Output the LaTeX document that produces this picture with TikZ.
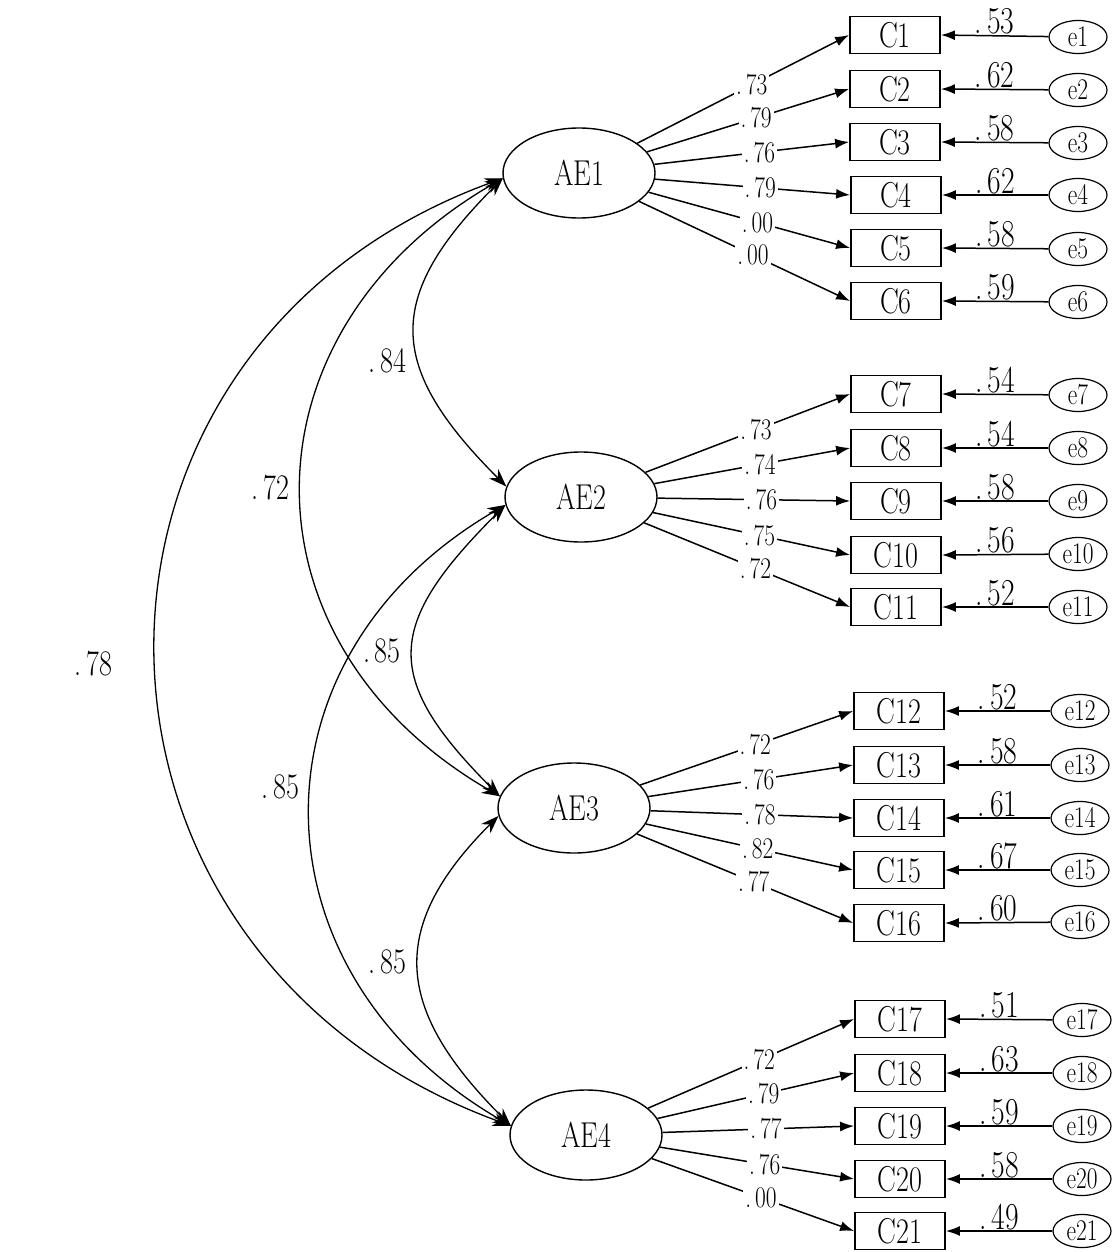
\documentclass[tikz,border=0pt]{standalone}
\usepackage{graphicx}
\usepackage{tikz}
\usetikzlibrary{arrows.meta}
\usetikzlibrary{shapes.geometric}
\newcommand{\nar}[1]{\scalebox{0.78}[1]{#1}}

\tikzset{
  latent/.style={draw, ellipse, line width=0.7pt, minimum width=76pt, minimum height=45pt, inner sep=0pt, font=\fontsize{18}{21}\selectfont},
  obs/.style={draw, rectangle, line width=0.9pt, minimum width=45pt, minimum height=18.5pt, inner sep=0pt, font=\fontsize{18}{21}\selectfont},
  resid/.style={draw, ellipse, line width=0.6pt, minimum width=29pt, minimum height=16.5pt, inner sep=0pt, font=\fontsize{15}{17}\selectfont},
  load/.style={line width=0.75pt, -{Latex[length=7pt,width=5pt]}},
  cov/.style={line width=0.65pt, {Stealth[length=9pt,width=6.5pt]}-{Stealth[length=9pt,width=6.5pt]}},
  loadlbl/.style={fill=white, inner sep=1pt, pos=0.54, font=\fontsize{15}{17}\selectfont},
  errlbl/.style={above, inner sep=0.3pt, pos=0.5, font=\fontsize{19}{21}\selectfont},
  covlbl/.style={left, inner sep=6pt, font=\fontsize{18}{21}\selectfont}
}

\begin{document}
\begin{tikzpicture}[x=0.5pt, y=0.5pt]
            % Frame to ensure alignment:
            \useasboundingbox (0, 0) rectangle (1112, -1252);
            % Factors
            \node[latent] (AE1) at (579, -173) {\nar{AE1}};
            \node[latent] (AE2) at (581, -497) {\nar{AE2}};
            \node[latent] (AE3) at (574, -808) {\nar{AE3}};
            \node[latent] (AE4) at (586,-1135) {\nar{AE4}};
            % AE1 items
            \node[obs]   (C1)  at (895,  -35) {\nar{C1}};   \node[resid] (e1)  at (1078,  -37) {\nar{e1}};
            \node[obs]   (C2)  at (895,  -89) {\nar{C2}};   \node[resid] (e2)  at (1078,  -90) {\nar{e2}};
            \node[obs]   (C3)  at (895, -142) {\nar{C3}};   \node[resid] (e3)  at (1078, -143) {\nar{e3}};
            \node[obs]   (C4)  at (896, -195) {\nar{C4}};   \node[resid] (e4)  at (1078, -195) {\nar{e4}};
            \node[obs]   (C5)  at (896, -248) {\nar{C5}};   \node[resid] (e5)  at (1078, -249) {\nar{e5}};
            \node[obs]   (C6)  at (896, -301) {\nar{C6}};   \node[resid] (e6)  at (1078, -302) {\nar{e6}};
            % AE2 items
            \node[obs]   (C7)  at (896, -394) {\nar{C7}};   \node[resid] (e7)  at (1078, -395) {\nar{e7}};
            \node[obs]   (C8)  at (896, -448) {\nar{C8}};   \node[resid] (e8)  at (1078, -448) {\nar{e8}};
            \node[obs]   (C9)  at (896, -501) {\nar{C9}};   \node[resid] (e9)  at (1078, -501) {\nar{e9}};
            \node[obs]   (C10) at (896, -555) {\nar{C10}};  \node[resid] (e10) at (1078, -554) {\nar{e10}};
            \node[obs]   (C11) at (896, -607) {\nar{C11}};  \node[resid] (e11) at (1078, -607) {\nar{e11}};
            % AE3 items
            \node[obs]   (C12) at (899, -711) {\nar{C12}};  \node[resid] (e12) at (1080, -711) {\nar{e12}};
            \node[obs]   (C13) at (899, -765) {\nar{C13}};  \node[resid] (e13) at (1080, -765) {\nar{e13}};
            \node[obs]   (C14) at (899, -818) {\nar{C14}};  \node[resid] (e14) at (1080, -818) {\nar{e14}};
            \node[obs]   (C15) at (899, -870) {\nar{C15}};  \node[resid] (e15) at (1080, -870) {\nar{e15}};
            \node[obs]   (C16) at (899, -923) {\nar{C16}};  \node[resid] (e16) at (1080, -922) {\nar{e16}};
            % AE4 items
            \node[obs]   (C17) at (900,-1019) {\nar{C17}};  \node[resid] (e17) at (1082,-1020) {\nar{e17}};
            \node[obs]   (C18) at (900,-1073) {\nar{C18}};  \node[resid] (e18) at (1082,-1073) {\nar{e18}};
            \node[obs]   (C19) at (900,-1126) {\nar{C19}};  \node[resid] (e19) at (1082,-1126) {\nar{e19}};
            \node[obs]   (C20) at (900,-1179) {\nar{C20}};  \node[resid] (e20) at (1082,-1179) {\nar{e20}};
            \node[obs]   (C21) at (900,-1231) {\nar{C21}};  \node[resid] (e21) at (1082,-1231) {\nar{e21}};
            % Loadings
            \draw[load] (AE1) -- node[loadlbl] {\nar{.\,73}} (C1.west);
            \draw[load] (AE1) -- node[loadlbl] {\nar{.\,79}} (C2.west);
            \draw[load] (AE1) -- node[loadlbl] {\nar{.\,76}} (C3.west);
            \draw[load] (AE1) -- node[loadlbl] {\nar{.\,79}} (C4.west);
            \draw[load] (AE1) -- node[loadlbl] {\nar{.\,00}} (C5.west);
            \draw[load] (AE1) -- node[loadlbl] {\nar{.\,00}} (C6.west);
            \draw[load] (AE2) -- node[loadlbl] {\nar{.\,73}} (C7.west);
            \draw[load] (AE2) -- node[loadlbl] {\nar{.\,74}} (C8.west);
            \draw[load] (AE2) -- node[loadlbl] {\nar{.\,76}} (C9.west);
            \draw[load] (AE2) -- node[loadlbl] {\nar{.\,75}} (C10.west);
            \draw[load] (AE2) -- node[loadlbl] {\nar{.\,72}} (C11.west);
            \draw[load] (AE3) -- node[loadlbl] {\nar{.\,72}} (C12.west);
            \draw[load] (AE3) -- node[loadlbl] {\nar{.\,76}} (C13.west);
            \draw[load] (AE3) -- node[loadlbl] {\nar{.\,78}} (C14.west);
            \draw[load] (AE3) -- node[loadlbl] {\nar{.\,82}} (C15.west);
            \draw[load] (AE3) -- node[loadlbl] {\nar{.\,77}} (C16.west);
            \draw[load] (AE4) -- node[loadlbl] {\nar{.\,72}} (C17.west);
            \draw[load] (AE4) -- node[loadlbl] {\nar{.\,79}} (C18.west);
            \draw[load] (AE4) -- node[loadlbl] {\nar{.\,77}} (C19.west);
            \draw[load] (AE4) -- node[loadlbl] {\nar{.\,76}} (C20.west);
            \draw[load] (AE4) -- node[loadlbl] {\nar{.\,00}} (C21.west);
            % Residuals
            \draw[load] (e1)  -- node[errlbl] {\nar{.\,53}} (C1.east);
            \draw[load] (e2)  -- node[errlbl] {\nar{.\,62}} (C2.east);
            \draw[load] (e3)  -- node[errlbl] {\nar{.\,58}} (C3.east);
            \draw[load] (e4)  -- node[errlbl] {\nar{.\,62}} (C4.east);
            \draw[load] (e5)  -- node[errlbl] {\nar{.\,58}} (C5.east);
            \draw[load] (e6)  -- node[errlbl] {\nar{.\,59}} (C6.east);
            \draw[load] (e7)  -- node[errlbl] {\nar{.\,54}} (C7.east);
            \draw[load] (e8)  -- node[errlbl] {\nar{.\,54}} (C8.east);
            \draw[load] (e9)  -- node[errlbl] {\nar{.\,58}} (C9.east);
            \draw[load] (e10) -- node[errlbl] {\nar{.\,56}} (C10.east);
            \draw[load] (e11) -- node[errlbl] {\nar{.\,52}} (C11.east);
            \draw[load] (e12) -- node[errlbl] {\nar{.\,52}} (C12.east);
            \draw[load] (e13) -- node[errlbl] {\nar{.\,58}} (C13.east);
            \draw[load] (e14) -- node[errlbl] {\nar{.\,61}} (C14.east);
            \draw[load] (e15) -- node[errlbl] {\nar{.\,67}} (C15.east);
            \draw[load] (e16) -- node[errlbl] {\nar{.\,60}} (C16.east);
            \draw[load] (e17) -- node[errlbl] {\nar{.\,51}} (C17.east);
            \draw[load] (e18) -- node[errlbl] {\nar{.\,63}} (C18.east);
            \draw[load] (e19) -- node[errlbl] {\nar{.\,59}} (C19.east);
            \draw[load] (e20) -- node[errlbl] {\nar{.\,58}} (C20.east);
            \draw[load] (e21) -- node[errlbl] {\nar{.\,49}} (C21.east);
            % Covariances
            \draw[cov] (AE1.184) to[out=225, in=135, looseness=1.4]
                 node[covlbl, pos=0.6] {\nar{.\,84}} (AE2.172);
            \draw[cov] (AE1.184) to[out=210, in=150, looseness=1.27]
                 node[covlbl, pos=0.5] {\nar{.\,72}} (AE3.171);
            \draw[cov] (AE1.184) to[out=200, in=160, looseness=1.34]
                 node[covlbl, pos=0.51, xshift=-16pt] {\nar{.\,78}} (AE4.173);
            \draw[cov] (AE2.186) to[out=225, in=135, looseness=1.48]
                 node[covlbl, pos=0.5] {\nar{.\,85}} (AE3.171);
            \draw[cov] (AE2.186) to[out=210, in=150, looseness=1.25]
                 node[covlbl, pos=0.46] {\nar{.\,85}} (AE4.173);
            \draw[cov] (AE3.186) to[out=225, in=135, looseness=1.33]
                 node[covlbl, pos=0.47] {\nar{.\,85}} (AE4.173);
\end{tikzpicture}
\end{document}
